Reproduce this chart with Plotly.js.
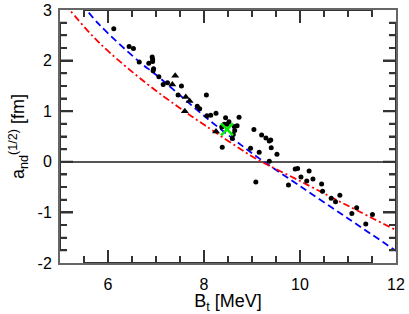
<!DOCTYPE html>
<html>
<head>
<meta charset="utf-8">
<script src="https://cdn.plot.ly/plotly-3.0.1.min.js"></script>
<style>html,body{margin:0;padding:0;background:#fff;}#chart{width:409px;height:314px;}</style>
</head>
<body>
<div id="chart"></div>
<script>
// Scatter data (black dots)
const dotsX = [6.12,6.44,6.53,6.65,6.85,6.92,6.93,6.93,6.95,6.94,7.06,7.15,7.24,7.53,7.46,7.86,7.91,8.05,8.06,8.14,8.25,8.45,8.52,8.48,8.42,8.37,8.73,8.63,8.69,8.64,8.61,8.59,8.38,9.04,9.20,9.29,9.36,9.39,9.40,8.97,9.15,9.52,9.36,9.08,9.76,9.90,9.95,10.02,10.14,10.19,10.27,10.45,10.47,10.65,10.74,10.83,11.08,11.18,11.37,11.51];
const dotsY = [2.63,2.28,2.24,1.97,1.95,2.07,2.02,1.98,1.84,1.80,1.68,1.53,1.56,1.50,1.32,1.10,1.05,1.32,0.91,0.92,0.96,0.87,0.79,0.74,0.74,0.69,0.88,0.70,0.71,0.62,0.54,0.46,0.29,0.64,0.53,0.47,0.41,0.43,0.28,0.27,0.19,0.15,0.01,-0.40,-0.46,-0.14,-0.13,-0.30,-0.38,-0.18,-0.34,-0.44,-0.58,-0.72,-0.79,-0.66,-1.02,-0.91,-1.23,-1.04];
// Triangles
const triX = [7.34,7.40,7.62,7.70,7.60,8.25];
const triY = [1.53,1.70,1.28,1.20,1.00,0.60];
// Green cross
const crossX = [8.48];
const crossY = [0.64];
// Blue dashed curve
const blueX = [5.45,5.82,6.66,7.0,8.05,9.0,9.25,10.0,11.0,12.0];
const blueY = [3.12,2.71,1.97,1.72,0.87,0.17,0.0,-0.48,-1.12,-1.76];
// Red dash-dot curve
const redX = [5.1,5.2,5.82,6.8,7.5,8.02,8.96,9.2,10.0,11.0,12.0];
const redY = [3.11,3.0,2.35,1.55,1.06,0.72,0.13,0.0,-0.38,-0.87,-1.35];
// Axis ticks
const xTickVals = [6, 8, 10, 12];
const xTickText = ['6', '8', '10', '12'];
const yTickVals = [-2, -1, 0, 1, 2, 3];
const yTickText = ['-2', '-1', '0', '1', '2', '3'];
const xRange = [5, 12];
const yRange = [-2, 3];
const xMinorStep = 0.5;
const yMinorStep = 0.25;

const W = 409, H = 314;
const M = {l: 60, r: 13, t: 10, b: 51};
const pxPerX = (W - M.l - M.r) / (xRange[1] - xRange[0]);
const pxPerY = (H - M.t - M.b) / (yRange[1] - yRange[0]);

// Inward tick marks drawn as a zig-zag path running along each frame side
function tickPath(axis, side) {
  const xs = [], ys = [];
  if (axis === 'x') {
    const base = side === 0 ? yRange[0] : yRange[1];
    const dir = side === 0 ? 1 : -1;
    const n = Math.round((xRange[1] - xRange[0]) / xMinorStep);
    for (let i = 1; i < n; i++) {
      const v = xRange[0] + i * xMinorStep;
      const len = (xTickVals.includes(v) ? 13 : 7) / pxPerY;
      xs.push(v, v, v);
      ys.push(base, base + dir * len, base);
    }
  } else {
    const base = side === 0 ? xRange[0] : xRange[1];
    const dir = side === 0 ? 1 : -1;
    const n = Math.round((yRange[1] - yRange[0]) / yMinorStep);
    for (let i = 1; i < n; i++) {
      const v = yRange[0] + i * yMinorStep;
      const len = (yTickVals.includes(v) ? 13 : 7) / pxPerX;
      xs.push(base, base + dir * len, base);
      ys.push(v, v, v);
    }
  }
  return {x: xs, y: ys, type: 'scatter', mode: 'lines', line: {color: '#333', width: 2}, hoverinfo: 'skip'};
}

const traces = [
  tickPath('x', 0), tickPath('x', 1), tickPath('y', 0), tickPath('y', 1),
  {x: blueX, y: blueY, mode: 'lines', line: {color: '#0000ff', width: 1.8, dash: '7px,4px', shape: 'spline'}, hoverinfo: 'skip'},
  {x: redX, y: redY, mode: 'lines', line: {color: '#ff0000', width: 1.8, dash: '7px,3px,2px,3px', shape: 'spline'}, hoverinfo: 'skip'},
  {x: dotsX, y: dotsY, mode: 'markers', marker: {color: '#000', size: 5, symbol: 'circle'}},
  {x: triX, y: triY, mode: 'markers', marker: {color: '#000', size: 7, symbol: 'triangle-up'}},
  {x: crossX, y: crossY, mode: 'markers', marker: {color: '#00ee00', size: 12, symbol: 'x-thin', line: {color: '#00ee00', width: 2.5}}}
];

const FONT = 'Liberation Sans, Arial, sans-serif';
const axisCommon = {
  showgrid: false,
  showline: true,
  linecolor: '#666',
  linewidth: 2,
  mirror: 'allticks',
  ticks: 'inside',
  tickcolor: '#333',
  tickwidth: 2,
  ticklen: 13,
  tickfont: {family: FONT, size: 16, color: '#000'}
};

const layout = {
  width: W, height: H,
  margin: M,
  paper_bgcolor: '#fff', plot_bgcolor: '#fff',
  showlegend: false,
  font: {family: FONT, color: '#000'},
  xaxis: Object.assign({}, axisCommon, {
    range: xRange, tickmode: 'array', tickvals: xTickVals, ticktext: xTickText,
    zeroline: false, ticklabelstandoff: 6,
    minor: {dtick: xMinorStep, tick0: 5, ticks: 'inside', ticklen: 7, tickcolor: '#333', tickwidth: 2},
    title: {text: 'B<sub>t</sub> [MeV]', font: {size: 18, family: FONT}, standoff: 2}
  }),
  yaxis: Object.assign({}, axisCommon, {
    range: yRange, tickmode: 'array', tickvals: yTickVals, ticktext: yTickText,
    zeroline: true, zerolinecolor: '#555', zerolinewidth: 1.5, ticklabelstandoff: 3,
    minor: {dtick: yMinorStep, tick0: 0, ticks: 'inside', ticklen: 7, tickcolor: '#333', tickwidth: 2},
    title: {text: 'a<sub>nd</sub><sup>(1/2)</sup> [fm]', font: {size: 18, family: FONT}, standoff: 8}
  })
};

Plotly.newPlot('chart', traces, layout, {staticPlot: true, displayModeBar: false});
</script>
</body>
</html>
